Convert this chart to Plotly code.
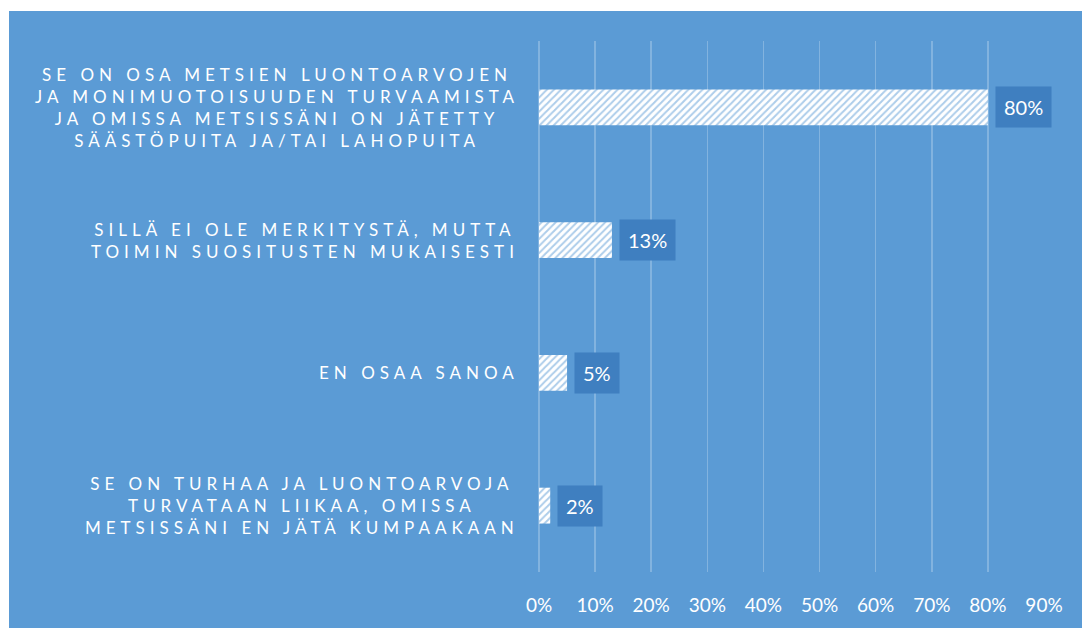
import plotly.graph_objects as go

categories = [
    "SE ON OSA METSIEN LUONTOARVOJEN<br>JA MONIMUOTOISUUDEN TURVAAMISTA<br>JA OMISSA METSISSÄNI ON JÄTETTY<br>SÄÄSTÖPUITA JA/TAI LAHOPUITA",
    "SILLÄ EI OLE MERKITYSTÄ, MUTTA<br>TOIMIN SUOSITUSTEN MUKAISESTI",
    "EN OSAA SANOA",
    "SE ON TURHAA JA LUONTOARVOJA<br>TURVATAAN LIIKAA, OMISSA<br>METSISSÄNI EN JÄTÄ KUMPAAKAAN",
]
values = [80, 13, 5, 2]
tick_values = [0, 10, 20, 30, 40, 50, 60, 70, 80, 90]
tick_labels = ["0%", "10%", "20%", "30%", "40%", "50%", "60%", "70%", "80%", "90%"]

BLUE = "#5B9BD5"
BOX = "#3F7FC0"
GRID = "rgba(255,255,255,0.24)"
FONT = "Lato"

W, H = 1082, 628
ML, MR, MT, MB = 539, 38, 41, 56
pw = W - ML - MR
ph = H - MT - MB

ids = list(range(len(categories)))

fig = go.Figure()
fig.add_trace(go.Bar(
    y=ids, x=values, orientation="h", width=0.27,
    marker=dict(color="white", line=dict(width=0),
                pattern=dict(shape="/", fgcolor=BLUE, bgcolor="white", size=5, solidity=0.4)),
    hoverinfo="skip",
))


def spaced(label, ls=5.0):
    return "<br>".join(f'<span style="letter-spacing:{ls}px">{ln}</span>' for ln in label.split("<br>"))


annotations = []
for i, (c, v) in enumerate(zip(categories, values)):
    annotations.append(dict(
        x=0, xref="paper", y=i, yref="y", xanchor="right", yanchor="middle",
        xshift=-18, align="center", showarrow=False, text=spaced(c),
        font=dict(family=FONT, size=17, color="white"),
    ))
    annotations.append(dict(
        x=v, xref="x", y=i, yref="y", xanchor="left", yanchor="middle",
        xshift=7, showarrow=False, text=f"{v}%", bgcolor=BOX, borderpad=8,
        font=dict(family=FONT, size=20, color="white"),
    ))

fig.update_layout(
    width=W, height=H,
    margin=dict(l=ML, r=MR, t=MT, b=MB, pad=0),
    paper_bgcolor="white", plot_bgcolor="rgba(0,0,0,0)",
    showlegend=False,
    font=dict(family=FONT, color="white"),
    annotations=annotations,
    shapes=[dict(type="rect", xref="paper", yref="paper", layer="below",
                 x0=(9 - ML) / pw, x1=(W - ML) / pw,
                 y0=(MT + ph - H) / ph, y1=(MT + ph - 11) / ph,
                 fillcolor=BLUE, line=dict(width=0))],
    xaxis=dict(range=[0, 90], tickvals=tick_values, ticktext=tick_labels,
               showgrid=True, gridcolor=GRID, gridwidth=1.5,
               zeroline=True, zerolinecolor=GRID, zerolinewidth=1.5,
               showline=False, ticks="", ticklabelstandoff=20,
               tickfont=dict(family=FONT, size=19, color="white"), fixedrange=True),
    yaxis=dict(range=[3.5, -0.5], showticklabels=False, showgrid=False, zeroline=False,
               ticks="", fixedrange=True),
)

fig.write_html("out.html", config={"displayModeBar": False, "staticPlot": True},
               post_script="document.body.style.margin='0';")
